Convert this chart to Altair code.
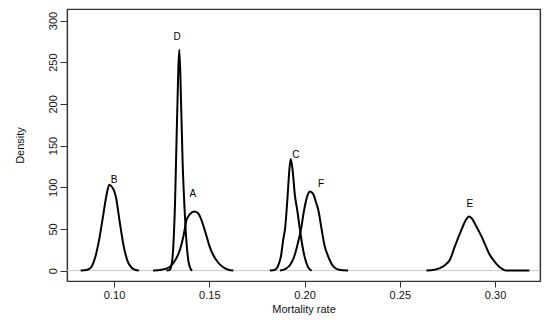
import altair as alt
import pandas as pd

# Density curves (x = mortality rate, y = density)
b_x = [0.0825, 0.086, 0.088, 0.090, 0.092, 0.094, 0.096, 0.0975, 0.099, 0.100, 0.101, 0.103, 0.105, 0.107, 0.109, 0.111, 0.113]
b_y = [0, 1, 4, 15, 35, 62, 90, 103, 100, 96, 88, 58, 30, 12, 4, 1, 0]

d_x = [0.1275, 0.1290, 0.1300, 0.1310, 0.1320, 0.1330, 0.1343, 0.1352, 0.1360, 0.1370, 0.1380, 0.1390, 0.1400, 0.1410]
d_y = [0, 0.5, 5, 25, 80, 175, 265, 200, 130, 75, 35, 12, 3, 0]

a_x = [0.1205, 0.125, 0.129, 0.132, 0.1346, 0.1365, 0.138, 0.140, 0.142, 0.144, 0.1451, 0.147, 0.1486, 0.150, 0.152, 0.1545, 0.1573, 0.160, 0.1626]
a_y = [0, 1, 4, 12, 25, 42, 60, 68, 71, 69, 65, 53, 41, 30, 19, 10, 4, 1, 0]

c_x = [0.1818, 0.1845, 0.186, 0.1876, 0.189, 0.1897, 0.1911, 0.192, 0.1927, 0.1935, 0.195, 0.1962, 0.1976, 0.199, 0.2002, 0.2015, 0.2025, 0.2037]
c_y = [0, 1, 5, 17, 40, 49, 89, 120, 134, 125, 89, 72, 49, 28, 15, 6, 2, 0]

f_x = [0.1871, 0.190, 0.1925, 0.1946, 0.1965, 0.1981, 0.1998, 0.2015, 0.2028, 0.2045, 0.206, 0.2072, 0.209, 0.2105, 0.2124, 0.2151, 0.218, 0.2228]
f_y = [0, 2, 7, 17, 33, 49, 73, 90, 95, 92, 82, 73, 49, 30, 17, 5, 1, 0]

e_x = [0.264, 0.268, 0.2711, 0.274, 0.2763, 0.2789, 0.2824, 0.2845, 0.2864, 0.288, 0.2895, 0.2911, 0.2935, 0.2952, 0.297, 0.299, 0.3025, 0.306, 0.318]
e_y = [0, 1, 3, 7, 13, 29, 49, 60, 65, 62, 56, 49, 38, 29, 20, 13, 4, 0, 0]

label_text = ["B", "D", "A", "C", "F", "E"]
label_x = [0.100, 0.1331, 0.1414, 0.1955, 0.2086, 0.2868]
label_y = [109, 280, 92, 139, 104, 80]

x_ticks = [0.10, 0.15, 0.20, 0.25, 0.30]
y_ticks = [0, 50, 100, 150, 200, 250, 300]

x_domain = [0.0753, 0.3236]
y_domain = [-12.5, 313.8]

rows = []
for name, xs, ys in [("B", b_x, b_y), ("D", d_x, d_y), ("A", a_x, a_y),
                     ("C", c_x, c_y), ("F", f_x, f_y), ("E", e_x, e_y)]:
    for i, (x, y) in enumerate(zip(xs, ys)):
        rows.append({"curve": name, "x": x, "y": y, "order": i})
curves = pd.DataFrame(rows)
labels = pd.DataFrame({"label": label_text, "x": label_x, "y": label_y})
zero_df = pd.DataFrame({"x": x_domain, "y": [0, 0], "order": [0, 1]})

W, H = 473, 272
FRAME = "#333333"

xscale = alt.Scale(domain=x_domain, nice=False, zero=False)
yscale = alt.Scale(domain=y_domain, nice=False, zero=False)

xaxis = alt.Axis(values=x_ticks, format=".2f", title="Mortality rate", grid=False,
                 domain=True, domainColor=FRAME, domainWidth=1.2,
                 tickSize=6, tickColor=FRAME, labelFontSize=11,
                 labelFont="Liberation Sans", labelColor="#111", titleFont="Liberation Sans",
                 titleFontSize=11, titleFontWeight="normal", titleColor="#111",
                 labelPadding=2, titlePadding=3)
yaxis = alt.Axis(values=y_ticks, title="Density", grid=False,
                 domain=True, domainColor=FRAME, domainWidth=1.2, tickSize=7,
                 tickColor=FRAME, labelAngle=270, labelAlign="center", labelBaseline="bottom",
                 labelFontSize=11, labelFont="Liberation Sans", labelColor="#111",
                 titleFont="Liberation Sans", titleFontSize=11, titleFontWeight="normal",
                 titleColor="#111", labelPadding=2, titlePadding=22)

# top and right edges of the box, drawn as axis domain lines only
top_axis = alt.Axis(orient="top", domain=True, domainColor=FRAME, domainWidth=1.2,
                    ticks=False, labels=False, grid=False, title=None)
right_axis = alt.Axis(orient="right", domain=True, domainColor=FRAME, domainWidth=1.2,
                      ticks=False, labels=False, grid=False, title=None)

zero_line = alt.Chart(zero_df).mark_line(color="#c8c8c8", strokeWidth=1).encode(
    x=alt.X("x:Q", scale=xscale, axis=xaxis),
    y=alt.Y("y:Q", scale=yscale, axis=yaxis),
    order="order:Q",
)

lines = alt.Chart(curves).mark_line(color="black", strokeWidth=2, interpolate="monotone").encode(
    x=alt.X("x:Q", scale=xscale, axis=None),
    y=alt.Y("y:Q", scale=yscale, axis=None),
    detail="curve:N",
    order="order:Q",
)

edges = alt.Chart(labels).mark_point(opacity=0).encode(
    x=alt.X("x:Q", scale=xscale, axis=top_axis),
    y=alt.Y("y:Q", scale=yscale, axis=right_axis),
)

text = alt.Chart(labels).mark_text(font="Liberation Sans", fontSize=10, color="black").encode(
    x=alt.X("x:Q", scale=xscale, axis=None),
    y=alt.Y("y:Q", scale=yscale, axis=None),
    text="label:N",
)

chart = alt.layer(zero_line, edges, lines, text).resolve_axis(
    x="independent", y="independent"
).properties(
    width=W, height=H,
    autosize=alt.AutoSizeParams(type="none"),
    padding={"left": 59, "top": 1, "right": 2, "bottom": 38},
    background="white",
).configure_view(stroke=FRAME, strokeWidth=1.2)

chart.save("out.html", embed_options={"renderer": "svg", "actions": False})
